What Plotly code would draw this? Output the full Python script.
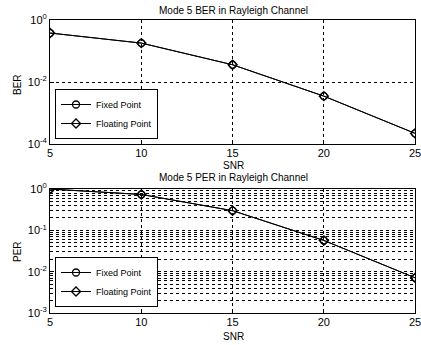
import plotly.graph_objects as go

snr = [5, 10, 15, 20, 25]
ber_fixed = [0.38, 0.18, 0.036, 0.0035, 0.00022]
ber_float = [0.38, 0.18, 0.036, 0.0035, 0.00022]
per_fixed = [1.0, 0.74, 0.30, 0.057, 0.0071]
per_float = [1.0, 0.74, 0.30, 0.057, 0.0071]

ber_ticks = [1, 1e-2, 1e-4]
ber_ticktext = ["10<sup>0</sup>", "10<sup>-2</sup>", "10<sup>-4</sup>"]
per_ticks = [1, 1e-1, 1e-2, 1e-3]
per_ticktext = ["10<sup>0</sup>", "10<sup>-1</sup>", "10<sup>-2</sup>", "10<sup>-3</sup>"]
x_ticks = [5, 10, 15, 20, 25]

per_minor = [m * 10 ** e for e in (-3, -2, -1) for m in range(2, 10)]

FAM = "Liberation Sans, Arial, sans-serif"
FONT = dict(family=FAM, size=11, color="black")
SMALL = dict(family=FAM, size=10, color="black")
LEG = dict(family=FAM, size=9, color="black")

fig = go.Figure()

def add(x, y, name, symbol, xa, ya, legend):
    fig.add_trace(go.Scatter(
        x=x, y=y, name=name, mode="lines+markers", xaxis=xa, yaxis=ya,
        legend=legend,
        line=dict(color="black", width=1),
        marker=dict(symbol=symbol, size=7, color="rgba(0,0,0,0)",
                    line=dict(color="black", width=1.3)),
    ))

add(snr, ber_fixed, "Fixed Point", "circle", "x", "y", "legend")
add(snr, ber_float, "Floating Point", "diamond", "x", "y", "legend")
add(snr, per_fixed, "Fixed Point", "circle", "x2", "y2", "legend2")
add(snr, per_float, "Floating Point", "diamond", "x2", "y2", "legend2")

xcommon = dict(range=[5, 25], tickvals=x_ticks, showline=True, linecolor="black",
               linewidth=1, mirror=True, ticks="inside", ticklen=4,
               tickcolor="black", automargin=False,
               showgrid=True, gridcolor="black", griddash="dot", gridwidth=1,
               zeroline=False, tickfont=FONT, ticklabeloverflow="allow",
               ticklabelstandoff=-1)

ycommon = dict(type="log", showline=True, linecolor="black", linewidth=1,
               mirror=True, ticks="inside", ticklen=4, tickcolor="black",
               automargin=False, showgrid=True, gridcolor="black",
               griddash="dot", gridwidth=1, zeroline=False, tickfont=FONT)

legend_common = dict(xanchor="left", yanchor="bottom",
                     bgcolor="white", bordercolor="black", borderwidth=1,
                     font=LEG, tracegroupgap=0, itemwidth=30)


def label(text, xpx, ypx, angle=0):
    return dict(text=text, x=xpx / 421, y=1 - ypx / 345, xref="paper",
                yref="paper", xanchor="center", yanchor="middle",
                showarrow=False, font=SMALL, textangle=angle)


fig.update_layout(
    template="none",
    width=421, height=345,
    margin=dict(l=0, r=0, t=0, b=0, autoexpand=False),
    paper_bgcolor="white", plot_bgcolor="white",
    font=FONT,
    showlegend=True,
    hovermode=False,
    xaxis=dict(domain=[0.119, 0.986], anchor="y", **xcommon),
    yaxis=dict(domain=[0.5826, 0.942], anchor="x", range=[-4, 0],
               tickvals=ber_ticks, ticktext=ber_ticktext, **ycommon),
    xaxis2=dict(domain=[0.119, 0.986], anchor="y2", **xcommon),
    yaxis2=dict(domain=[0.0928, 0.452], anchor="x2", range=[-3, 0],
                tickvals=per_ticks, ticktext=per_ticktext,
                minor=dict(tickvals=per_minor, showgrid=True, gridcolor="black",
                           griddash="dot", gridwidth=1, ticks=""),
                **ycommon),
    legend=dict(x=55 / 421, y=1 - 139 / 345, **legend_common),
    legend2=dict(x=55 / 421, y=1 - 307 / 345, **legend_common),
    annotations=[
        label("Mode 5 BER in Rayleigh Channel", 234, 10),
        label("Mode 5 PER in Rayleigh Channel", 234, 177),
        label("SNR", 234, 165),
        label("SNR", 234, 336),
        label("BER", 17, 85, -90),
        label("PER", 17, 252, -90),
    ],
)

fig.write_html("out.html",
               config={"displayModeBar": False},
               post_script="document.body.style.margin='0';"
                           "document.body.style.overflow='hidden';")
